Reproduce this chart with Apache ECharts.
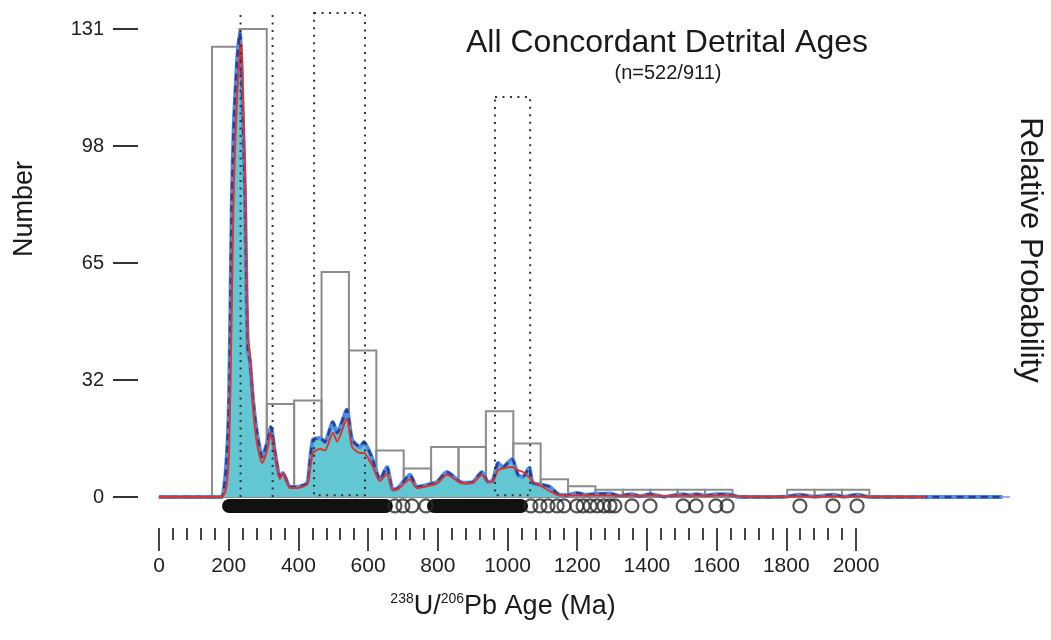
<!DOCTYPE html>
<html>
<head>
<meta charset="utf-8">
<script src="https://cdn.jsdelivr.net/npm/echarts@6/dist/echarts.min.js"></script>
<style>
    html, body { margin: 0; padding: 0; background: #fff; }
    #chart { width: 1051px; height: 640px; }
</style>
</head>
<body>
<div id="chart"></div>
<script>
// ages (Ma) where the probability curves were read
const ages = [0, 170, 181, 192, 201, 209, 215, 224, 232, 237,
    241, 247, 250, 255, 261, 270, 281, 296, 310, 321,
    333, 347, 356, 376, 396, 425, 432, 442, 462, 476,
    499, 511, 539, 554, 577, 588, 611, 634, 654, 671,
    686, 720, 740, 769, 798, 826, 864, 884, 901, 927,
    944, 958, 973, 987, 1013, 1030, 1044, 1062, 1073, 1102,
    1122, 1145, 1171, 1199, 1228, 1257, 1277, 1294, 1320, 1357,
    1380, 1409, 1450, 1504, 1520, 1541, 1570, 1598, 1630, 1660,
    1700, 1800, 1839, 1880, 1934, 1965, 2003, 2040, 2200, 2420];
// probability density (blue, filled), in "Number" units
const pdp = [0, 0, 0, 7.6, 27, 83, 105, 122, 130, 118,
    105, 83, 64, 41, 38, 27, 18, 11.2, 15, 19.6,
    12.3, 5.6, 6.7, 2.8, 2.8, 3.9, 9, 16, 16.5, 15.4,
    21, 17.9, 24.4, 16, 14, 15.4, 11, 4.8, 8.4, 2,
    2.5, 6.2, 2.8, 3.4, 4.2, 7, 4.2, 4, 4.2, 7,
    4.2, 4.6, 9.5, 8.4, 10.6, 6.2, 5.6, 8.1, 3.9, 3.4,
    2.8, 0.8, 0.5, 1.1, 0.6, 0.9, 0.9, 1.0, 0.3, 0.8,
    0.2, 0.8, 0.1, 0.8, 0.5, 0.8, 0.4, 0.8, 0.8, 0.1,
    0, 0.1, 0.6, 0.1, 0.6, 0.1, 0.6, 0, 0, 0];
// kernel density (red line)
const kde = [0, 0, 0, 2, 12, 55, 88, 112, 124, 127,
    112, 90, 70, 45, 40, 25, 15, 9.5, 13, 18.2,
    11.5, 5, 6.7, 2.5, 2.5, 3.5, 7, 12.3, 13.5, 13,
    18, 15.5, 22, 14, 12.3, 12.3, 9, 4.5, 6.5, 2,
    2.2, 5, 2.5, 3, 3.8, 6.2, 4, 3.8, 4, 6.2,
    4.2, 4.4, 7.5, 8, 8.4, 7.5, 7, 5.5, 4.2, 2.8,
    1.6, 0.6, 0.4, 0.4, 0.4, 0.4, 0.4, 0.4, 0.3, 0.4,
    0.3, 0.4, 0.3, 0.4, 0.3, 0.4, 0.3, 0.4, 0.4, 0.2,
    0.1, 0.1, 0.2, 0.1, 0.2, 0.1, 0.2, 0.1, 0, null];

// histogram: bin start, bin width, counts
const binStart = 152;
const binWidth = 78.6;
const counts = [126, 131, 26, 27, 63, 41, 13, 8, 14, 14, 24, 15, 5, 3, 2, 2, 2, 2, 2, 0, 0, 2, 2, 2];

// dotted age windows [from, to, top]
const dotLines = [234, 326];
const dotTop = 135.5;
const dotBoxes = [[445, 591, 135.5], [964, 1065, 112]];

// individual ages shown as circles, dense stretches drawn as bands
const rugAges = [677, 700, 726, 766, 1067, 1093, 1116, 1142, 1162, 1199, 1217, 1237,
    1257, 1277, 1294, 1308, 1357, 1409, 1504, 1541, 1598, 1630, 1839, 1934, 2003];
const rugBands = [[201, 651], [789, 1039]];

const yTicks = [0, 32, 65, 98, 131];

// layout
const zeroX = 159, zeroY = 497;
const pxPerMa = 0.3485;
const pxPerN = (497 - 29) / 131;
const xMax = 2440, yMin = -5, yMax = 137;
const rugLevel = -2.5;
const font = "'Liberation Sans', Arial, sans-serif";

const chart = echarts.init(document.getElementById('chart'), null, {renderer: 'canvas'});

const histData = counts.map((c, i) => [binStart + i * binWidth, binStart + (i + 1) * binWidth, c]).filter(d => d[2] > 0);
const pdpData = ages.map((a, i) => [a, pdp[i]]);
const kdeData = ages.map((a, i) => [a, kde[i]]);

const bandSeries = rugBands.map(b => ({
    type: 'line',
    xAxisIndex: 0, yAxisIndex: 0,
    data: [[b[0], rugLevel], [b[1], rugLevel]],
    symbol: 'none',
    lineStyle: {color: '#111', width: 14, cap: 'round'},
    z: 6,
    silent: true
}));

const option = {
    animation: false,
    grid: [
        {   // plotting area
            left: zeroX, width: xMax * pxPerMa,
            top: zeroY - yMax * pxPerN, height: (yMax - yMin) * pxPerN
        },
        {   // age tick axis
            left: zeroX, width: 2000 * pxPerMa, top: 480, height: 48
        },
        {   // number tick axis
            left: 138, width: 10, top: zeroY - 131 * pxPerN, height: 131 * pxPerN
        }
    ],
    xAxis: [
        {
            gridIndex: 0, type: 'value', min: 0, max: xMax,
            axisLine: {show: true, onZero: true, lineStyle: {color: '#a9a6ea', width: 2}},
            axisTick: {show: false}, axisLabel: {show: false}, splitLine: {show: false}
        },
        {
            gridIndex: 1, type: 'value', min: 0, max: 2000, interval: 200,
            axisLine: {show: false},
            axisTick: {show: true, length: 23, lineStyle: {color: '#444', width: 2}},
            minorTick: {show: true, splitNumber: 5, length: 12, lineStyle: {color: '#444', width: 2}},
            axisLabel: {margin: 28, fontSize: 21, color: '#222', fontFamily: font,
                formatter: v => String(v)},
            splitLine: {show: false}, minorSplitLine: {show: false}
        },
        {gridIndex: 2, type: 'value', show: false}
    ],
    yAxis: [
        {gridIndex: 0, type: 'value', min: yMin, max: yMax, show: false},
        {gridIndex: 1, type: 'value', show: false},
        {
            gridIndex: 2, type: 'value', min: 0, max: 131, interval: 131 / 4,
            axisLine: {show: false},
            axisTick: {show: true, length: 25, lineStyle: {color: '#333', width: 2}},
            axisLabel: {margin: 34, fontSize: 20, color: '#222', fontFamily: font,
                formatter: v => String(yTicks.find(t => Math.abs(t - v) < 1))},
            splitLine: {show: false}
        }
    ],
    graphic: [
        {type: 'text', x: 667, y: 43,
            style: {text: 'All Concordant Detrital Ages', font: '32px ' + font, fill: '#1a1a1a',
                textAlign: 'center', textVerticalAlign: 'middle'}},
        {type: 'text', x: 668, y: 73,
            style: {text: '(n=522/911)', font: '20px ' + font, fill: '#1a1a1a',
                textAlign: 'center', textVerticalAlign: 'middle'}},
        {type: 'text', x: 25, y: 209, rotation: Math.PI / 2,
            style: {text: 'Number', font: '27px ' + font, fill: '#1a1a1a',
                textAlign: 'center', textVerticalAlign: 'middle'}},
        {type: 'text', x: 1030, y: 250, rotation: -Math.PI / 2,
            style: {text: 'Relative Probability', font: '31px ' + font, fill: '#1a1a1a',
                textAlign: 'center', textVerticalAlign: 'middle'}},
        {type: 'text', x: 503, y: 607,
            style: {text: '{s|238}{m|U/}{s|206}{m|Pb Age (Ma)}', fill: '#1a1a1a',
                textAlign: 'center', textVerticalAlign: 'middle',
                rich: {
                    s: {fontSize: 14, fontFamily: font, fill: '#1a1a1a', verticalAlign: 'top', lineHeight: 14, padding: [0, 0, 14, 0]},
                    m: {fontSize: 27, fontFamily: font, fill: '#1a1a1a', lineHeight: 30}
                }}}
    ],
    series: [
        {   // histogram outlines
            type: 'custom',
            xAxisIndex: 0, yAxisIndex: 0,
            data: histData,
            encode: {x: [0, 1], y: 2},
            z: 1,
            silent: true,
            renderItem: function (params, api) {
                const p0 = api.coord([api.value(0), 0]);
                const p1 = api.coord([api.value(1), api.value(2)]);
                return {
                    type: 'rect',
                    shape: {x: p0[0], y: p1[1], width: p1[0] - p0[0], height: p0[1] - p1[1]},
                    style: {fill: 'none', stroke: '#8c8c8c', lineWidth: 2}
                };
            }
        },
        {   // filled probability curve
            type: 'line',
            xAxisIndex: 0, yAxisIndex: 0,
            data: pdpData,
            symbol: 'none',
            smooth: 0.2,
            lineStyle: {color: '#4c8ee0', width: 4},
            areaStyle: {color: '#62c7d3', opacity: 1, origin: 0},
            z: 2,
            silent: true
        },
        {   // dark dashed overlay
            type: 'line',
            xAxisIndex: 0, yAxisIndex: 0,
            data: pdpData,
            symbol: 'none',
            smooth: 0.2,
            lineStyle: {color: '#2b3c9c', width: 2.5, type: [7, 5]},
            z: 3,
            silent: true
        },
        {   // kernel density
            type: 'line',
            xAxisIndex: 0, yAxisIndex: 0,
            data: kdeData,
            symbol: 'none',
            smooth: 0.2,
            connectNulls: false,
            lineStyle: {color: '#e3322b', width: 2},
            z: 4,
            silent: true
        },
        {   // dotted age windows
            type: 'custom',
            xAxisIndex: 0, yAxisIndex: 0,
            data: [0],
            z: 5,
            silent: true,
            renderItem: function (params, api) {
                const dot = {stroke: '#333', lineWidth: 2, lineDash: [2, 5.5], fill: 'none'};
                const kids = dotLines.map(x => {
                    const a = api.coord([x, 0]), b = api.coord([x, dotTop]);
                    return {type: 'line', shape: {x1: a[0], y1: a[1], x2: b[0], y2: b[1]}, style: dot};
                });
                dotBoxes.forEach(d => {
                    const a = api.coord([d[0], 0.5]), b = api.coord([d[1], d[2]]);
                    kids.push({type: 'rect', shape: {x: a[0], y: b[1], width: b[0] - a[0], height: a[1] - b[1]}, style: dot});
                });
                return {type: 'group', children: kids};
            }
        },
        ...bandSeries,
        {   // individual ages
            type: 'scatter',
            xAxisIndex: 0, yAxisIndex: 0,
            data: rugAges.map(a => [a, rugLevel]),
            symbol: 'circle',
            symbolSize: 13,
            itemStyle: {color: 'rgba(255,255,255,0)', borderColor: '#2a2a2a', borderWidth: 2.2},
            z: 7,
            silent: true
        }
    ]
};

chart.setOption(option);
</script>
</body>
</html>
